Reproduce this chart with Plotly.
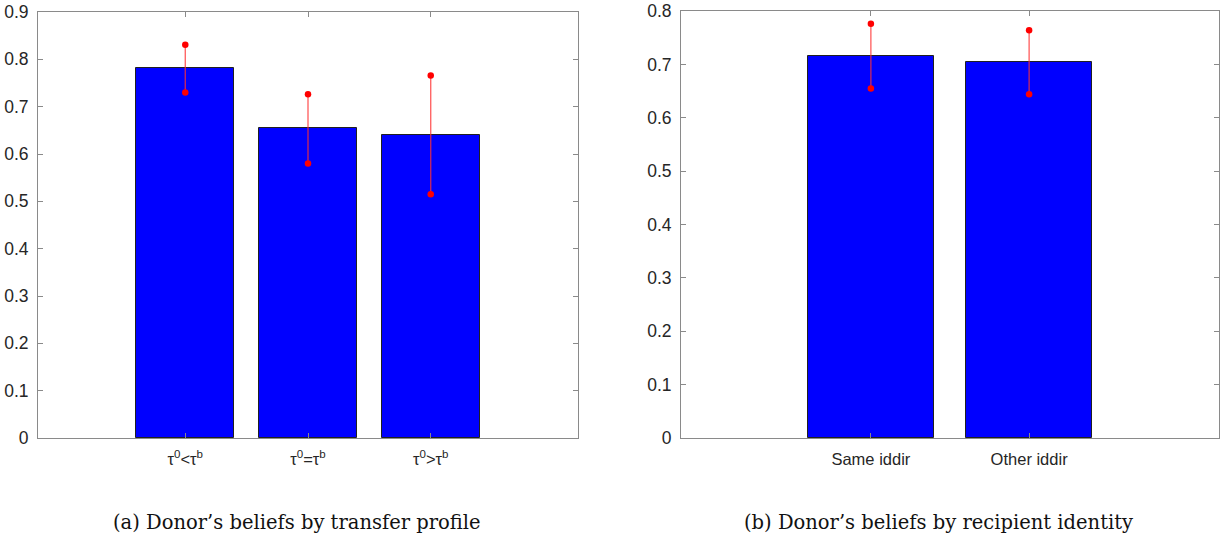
import plotly.graph_objects as go

# Panel (a): donor's beliefs by transfer profile
profile_labels = ["τ<sup>0</sup>&lt;τ<sup>b</sup>", "τ<sup>0</sup>=τ<sup>b</sup>", "τ<sup>0</sup>&gt;τ<sup>b</sup>"]
profile_mean = [0.781, 0.654, 0.641]
profile_low = [0.730, 0.580, 0.515]
profile_high = [0.831, 0.726, 0.766]

# Panel (b): donor's beliefs by recipient identity
identity_labels = ["Same iddir", "Other iddir"]
identity_mean = [0.716, 0.705]
identity_low = [0.655, 0.644]
identity_high = [0.776, 0.764]

W, H = 1228, 539
AXIS_GREY = "#8a8a8a"
LABEL_GREY = "#262626"
BAR_BLUE = "#0000ff"


def px_x(p):
    return p / W


def px_y(p):
    return 1 - p / H


fig = go.Figure()


def add_panel(labels, mean, low, high, xa, ya):
    pos = list(range(1, len(labels) + 1))
    fig.add_trace(go.Bar(
        x=pos, y=mean, width=0.8, xaxis=xa, yaxis=ya,
        marker=dict(color=BAR_BLUE, line=dict(color="#202020", width=1)),
        showlegend=False, hoverinfo="skip",
    ))
    xs, ys = [], []
    for p, lo, hi in zip(pos, low, high):
        xs += [p, p, None]
        ys += [lo, hi, None]
    fig.add_trace(go.Scatter(
        x=xs, y=ys, mode="lines", xaxis=xa, yaxis=ya,
        line=dict(color="rgba(255,50,50,0.8)", width=1.3),
        showlegend=False, hoverinfo="skip",
    ))
    fig.add_trace(go.Scatter(
        x=pos + pos, y=list(low) + list(high), mode="markers", xaxis=xa, yaxis=ya,
        marker=dict(color="#ff0000", size=6.5),
        showlegend=False, hoverinfo="skip",
    ))


add_panel(profile_labels, profile_mean, profile_low, profile_high, "x", "y")
add_panel(identity_labels, identity_mean, identity_low, identity_high, "x2", "y2")

axis_common = dict(
    showline=True, linecolor=AXIS_GREY, linewidth=1, mirror="allticks",
    ticks="inside", ticklen=5, tickcolor=AXIS_GREY, tickwidth=1,
    showgrid=False, zeroline=False, automargin=False,
    tickfont=dict(family="Liberation Sans, Arial, sans-serif", size=16.5, color=LABEL_GREY),
    fixedrange=True,
)
ytick_font = dict(family="Liberation Sans, Arial, sans-serif", size=17.5, color=LABEL_GREY)

fig.update_layout(
    width=W, height=H, autosize=False,
    margin=dict(l=0, r=0, t=0, b=0, pad=0),
    paper_bgcolor="white", plot_bgcolor="white",
    bargap=0,
    xaxis=dict(axis_common, domain=[px_x(38), px_x(578)], range=[-0.2, 4.2],
               tickvals=[1, 2, 3], ticktext=profile_labels, anchor="y",
               ticklabelstandoff=6),
    yaxis=dict(axis_common, domain=[px_y(438), px_y(12)], range=[0, 0.9],
               tickvals=[i / 10 for i in range(10)],
               ticktext=["0"] + [f"{i / 10:.1f}" for i in range(1, 10)],
               anchor="x", ticklabelstandoff=5, tickfont=ytick_font),
    xaxis2=dict(axis_common, domain=[px_x(681), px_x(1219)], range=[-0.2, 3.2],
                tickvals=[1, 2], ticktext=identity_labels, anchor="y2",
                ticklabelstandoff=6),
    yaxis2=dict(axis_common, domain=[px_y(438), px_y(11)], range=[0, 0.8],
                tickvals=[i / 10 for i in range(9)],
                ticktext=["0"] + [f"{i / 10:.1f}" for i in range(1, 9)],
                anchor="x2", ticklabelstandoff=5, tickfont=ytick_font),
)

caption_font = dict(family="DejaVu Serif, serif", size=19.5, color="#111111")
fig.add_annotation(text="(a) Donor’s beliefs by transfer profile", xref="paper", yref="paper",
                   x=px_x(297), y=px_y(522), showarrow=False, font=caption_font,
                   xanchor="center", yanchor="middle")
fig.add_annotation(text="(b) Donor’s beliefs by recipient identity", xref="paper", yref="paper",
                   x=px_x(938), y=px_y(522), showarrow=False, font=caption_font,
                   xanchor="center", yanchor="middle")

fig.write_html("out.html")
